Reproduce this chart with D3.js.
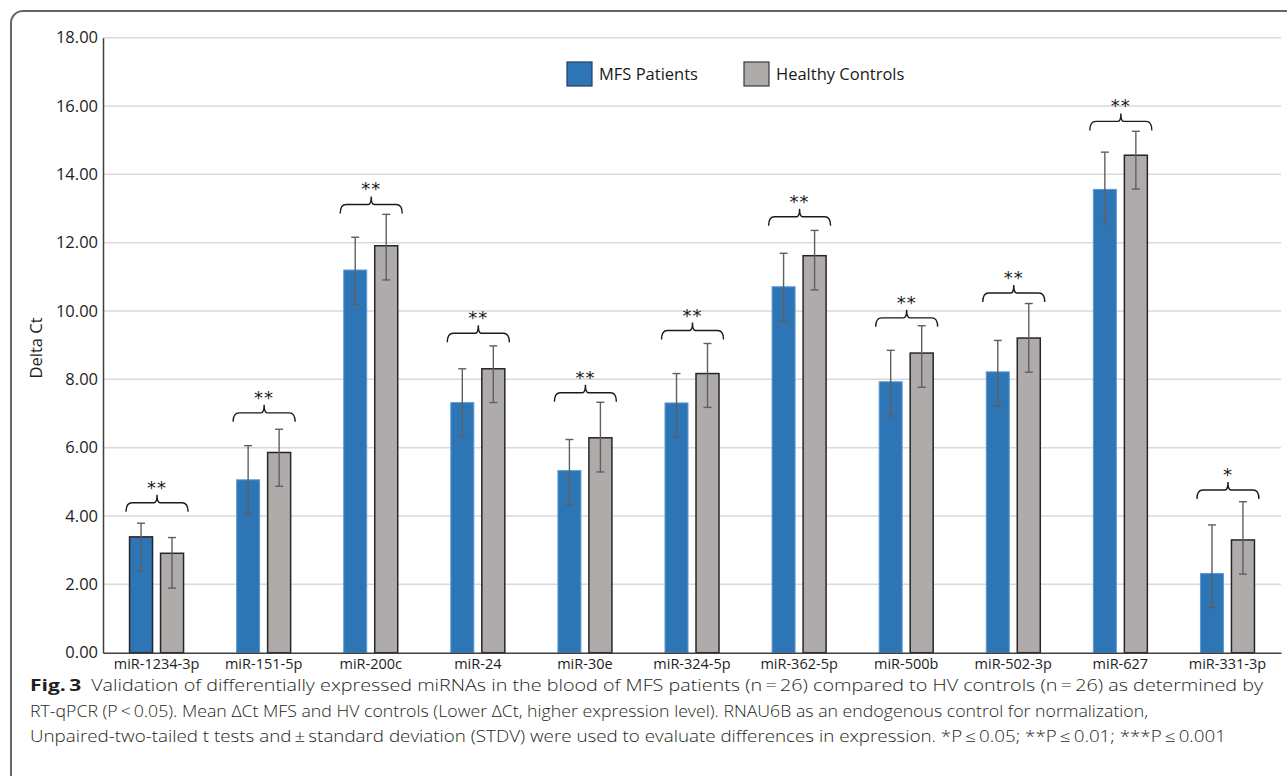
<!DOCTYPE html>
<html>
<head>
<meta charset="utf-8">
<script src="https://cdn.jsdelivr.net/npm/d3@7"></script>
<style>
  html, body { margin: 0; padding: 0; background: #fff; }
  svg { display: block; }
  .tick text { font-family: "Open Sans", Lato, sans-serif; }
</style>
</head>
<body>
<svg id="chart" width="1287" height="776"></svg>
<script>
// miRNAs on the x axis
const categories = ["miR-1234-3p", "miR-151-5p", "miR-200c", "miR-24", "miR-30e", "miR-324-5p",
                    "miR-362-5p", "miR-500b", "miR-502-3p", "miR-627", "miR-331-3p"];
const seriesNames = ["MFS Patients", "Healthy Controls"];

// Mean delta Ct per group
const mfsValues = [3.39, 5.06, 11.20, 7.32, 5.33, 7.31, 10.71, 7.93, 8.22, 13.56, 2.32];
const hcValues  = [2.91, 5.86, 11.91, 8.31, 6.29, 8.17, 11.62, 8.77, 9.21, 14.56, 3.30];

// Error bar extents (plus / minus) per group
const mfsErrUp   = [0.40, 1.00, 0.96, 0.99, 0.91, 0.86, 0.98, 0.92, 0.92, 1.09, 1.42];
const mfsErrDown = [1.00, 1.00, 1.00, 0.99, 1.01, 0.99, 0.99, 1.00, 1.00, 1.01, 1.00];
const hcErrUp    = [0.46, 0.68, 0.92, 0.67, 1.04, 0.88, 0.74, 0.80, 1.01, 0.70, 1.12];
const hcErrDown  = [1.02, 0.99, 1.00, 0.99, 1.00, 0.99, 1.00, 1.00, 1.00, 0.99, 1.00];

// Significance brackets: level (delta Ct) and star label
const bracketLevel = [4.39, 7.02, 13.12, 9.35, 7.61, 9.43, 12.76, 9.80, 10.53, 15.55, 4.76];
const significance = ["**", "**", "**", "**", "**", "**", "**", "**", "**", "**", "*"];

// Y axis ticks
const yTicks = [0, 2, 4, 6, 8, 10, 12, 14, 16, 18];

const captionLines = [
  "Validation of differentially expressed miRNAs in the blood of MFS patients (n\u2009=\u200926) compared to HV controls (n\u2009=\u200926) as determined by",
  "RT-qPCR (P\u2009<\u20090.05). Mean \u0394Ct MFS and HV controls (Lower \u0394Ct, higher expression level). RNAU6B as an endogenous control for normalization,",
  "Unpaired-two-tailed t tests and\u2009\u00b1\u2009standard deviation (STDV) were used to evaluate differences in expression. *P\u2009\u2264\u20090.05; **P\u2009\u2264\u20090.01; ***P\u2009\u2264\u20090.001"
];

const colors = { "MFS Patients": "#2E75B6", "Healthy Controls": "#AFABAB" };
const font = '"Open Sans", Lato, sans-serif';

const svg = d3.select("#chart");

// frame with a rounded top-left corner
svg.append("path")
  .attr("d", "M11,776 V23 A12,12 0 0 1 23,11 H1287")
  .attr("fill", "none")
  .attr("stroke", "#666")
  .attr("stroke-width", 2);

const plot = { left: 103, right: 1281, top: 37.7, bottom: 652.7 };

const y = d3.scaleLinear().domain([0, 18]).range([plot.bottom, plot.top]);
const x0 = d3.scaleBand().domain(categories).range([plot.left, plot.right]).padding(0);
const x1 = d3.scaleBand().domain(seriesNames).range([0, x0.bandwidth()])
  .paddingInner(0.2258).paddingOuter(0.84);

// gridlines
svg.append("g")
  .selectAll("line")
  .data(yTicks.filter(d => d > 0))
  .join("line")
  .attr("x1", plot.left).attr("x2", plot.right)
  .attr("y1", d => y(d)).attr("y2", d => y(d))
  .attr("stroke", "#d9d9d9").attr("stroke-width", 1.5);

// y axis
const yAxis = svg.append("g")
  .attr("transform", `translate(${plot.left},0)`)
  .call(d3.axisLeft(y).tickValues(yTicks).tickFormat(d3.format(".2f")).tickSize(0).tickPadding(5));
yAxis.select(".domain").attr("stroke", "#404040").attr("stroke-width", 1.5);
yAxis.selectAll(".tick text").attr("font-size", 16.5).attr("fill", "#1e1e1e");

svg.append("text")
  .attr("transform", "translate(42,348) rotate(-90)")
  .attr("text-anchor", "middle")
  .attr("font-family", font).attr("font-size", 16.5).attr("fill", "#1e1e1e")
  .text("Delta Ct");

// rows of data joined per category
const rows = categories.map((c, i) => ({
  cat: c,
  i,
  bars: [
    { s: seriesNames[0], v: mfsValues[i], up: mfsErrUp[i], down: mfsErrDown[i] },
    { s: seriesNames[1], v: hcValues[i], up: hcErrUp[i], down: hcErrDown[i] }
  ],
  level: bracketLevel[i],
  sig: significance[i]
}));

const groups = svg.append("g").selectAll("g")
  .data(rows).join("g")
  .attr("transform", d => `translate(${x0(d.cat)},0)`);

// bars
groups.selectAll("rect")
  .data(d => d.bars.map(b => ({ ...b, i: d.i })))
  .join("rect")
  .attr("x", d => x1(d.s) + 0.5)
  .attr("width", x1.bandwidth() - 1)
  .attr("y", d => y(d.v))
  .attr("height", d => y(0) - y(d.v))
  .attr("fill", d => colors[d.s])
  .attr("stroke", d => d.s === seriesNames[1] || d.i === 0 ? "#262626" : "#5b9bd5")
  .attr("stroke-width", d => d.s === seriesNames[1] || d.i === 0 ? 1.5 : 1);

// error bars
const errG = groups.selectAll("g.err")
  .data(d => d.bars).join("g").attr("class", "err")
  .attr("stroke", "#5f5f5f").attr("stroke-width", 1.4);
errG.append("line")
  .attr("x1", d => x1(d.s) + x1.bandwidth() / 2)
  .attr("x2", d => x1(d.s) + x1.bandwidth() / 2)
  .attr("y1", d => y(d.v + d.up))
  .attr("y2", d => y(d.v - d.down));
[ d => d.v + d.up, d => d.v - d.down ].forEach(fn => {
  errG.append("line")
    .attr("x1", d => x1(d.s) + x1.bandwidth() / 2 - 4)
    .attr("x2", d => x1(d.s) + x1.bandwidth() / 2 + 4)
    .attr("y1", d => y(fn(d)))
    .attr("y2", d => y(fn(d)));
});

// significance braces
groups.append("path")
  .attr("d", d => {
    const L = x1(seriesNames[0]) - 3;
    const R = x1(seriesNames[1]) + x1.bandwidth() + 4;
    const C = (L + R) / 2;
    const ly = y(d.level);
    return `M${L},${ly + 9} Q${L},${ly} ${L + 6},${ly} H${C - 3} Q${C},${ly} ${C},${ly - 8}` +
           ` Q${C},${ly} ${C + 3},${ly} H${R - 6} Q${R},${ly} ${R},${ly + 9}`;
  })
  .attr("fill", "none").attr("stroke", "#1a1a1a").attr("stroke-width", 1.4);

groups.append("text")
  .attr("x", () => x1(seriesNames[0]) + (x1(seriesNames[1]) + x1.bandwidth() - x1(seriesNames[0])) / 2 + 0.5)
  .attr("y", d => y(d.level) - 9)
  .attr("text-anchor", "middle")
  .attr("font-family", "DejaVu Sans, sans-serif").attr("font-size", 18)
  .attr("letter-spacing", 1)
  .attr("fill", "#1a1a1a")
  .text(d => d.sig);

// x axis
const xAxis = svg.append("g")
  .attr("transform", `translate(0,${plot.bottom})`)
  .call(d3.axisBottom(x0).tickSize(0).tickPadding(6));
xAxis.select(".domain").attr("stroke", "#404040").attr("stroke-width", 1.5);
xAxis.selectAll(".tick text").attr("font-size", 14.5).attr("fill", "#1e1e1e");

// legend
const legend = svg.append("g").selectAll("g")
  .data(seriesNames).join("g")
  .attr("transform", (d, i) => `translate(${[567, 744][i]},62)`);
legend.append("rect")
  .attr("width", 25).attr("height", 24)
  .attr("fill", d => colors[d])
  .attr("stroke", d => d === seriesNames[0] ? "#1f3f66" : "#3a3a3a")
  .attr("stroke-width", 1.2);
legend.append("text")
  .attr("x", 32).attr("y", 18)
  .attr("font-family", font).attr("font-size", 16.5).attr("fill", "#1a1a1a")
  .text(d => d);

// caption
const captionWidths = [1233, 1118, 1196];
const cap = svg.append("g").attr("font-family", '"Open Sans", sans-serif').attr("font-size", 15.5).attr("fill", "#231f20");
captionLines.forEach((line, i) => {
  const t = cap.append("text")
    .attr("x", 30).attr("y", 691 + i * 25.5)
    .attr("textLength", captionWidths[i])
    .attr("lengthAdjust", "spacingAndGlyphs")
    .style("font-weight", 300);
  if (i === 0) {
    t.append("tspan").attr("font-weight", 700).attr("font-size", 16.5).text("Fig.\u20093");
    t.append("tspan").text("\u2002" + line);
  } else {
    t.text(line);
  }
});
</script>
</body>
</html>
